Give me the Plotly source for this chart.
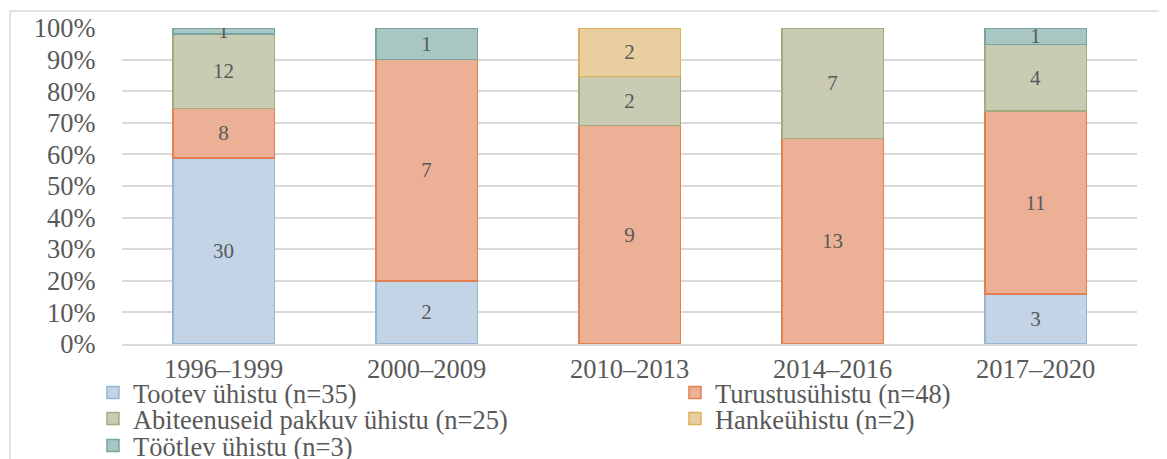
import plotly.graph_objects as go

# periods and counts per cooperative type
periods = ["1996–1999", "2000–2009", "2010–2013", "2014–2016", "2017–2020"]
tootev = [30, 2, 0, 0, 3]
turustus = [8, 7, 9, 13, 11]
abiteenus = [12, 0, 2, 7, 4]
hanke = [0, 0, 2, 0, 0]
tootlev = [1, 1, 0, 0, 1]

names = [
    "Tootev ühistu (n=35)",
    "Turustusühistu (n=48)",
    "Abiteenuseid pakkuv ühistu (n=25)",
    "Hankeühistu (n=2)",
    "Töötlev ühistu (n=3)",
]
fills = ["#c2d4e6", "#ebb095", "#c9cbb3", "#e9cf9f", "#a9c7c2"]
borders = ["#95b6d6", "#e2814f", "#a4a97f", "#dcb158", "#75a59e"]

font = "Liberation Serif"
grey = "#595959"

# one legend per entry so the two-column layout can be placed exactly
legend_ids = ["legend", "legend2", "legend3", "legend4", "legend5"]
legend_pos = [(-0.0286, -0.0782), (0.5448, -0.0782),
              (-0.0286, -0.1604), (0.5448, -0.1604),
              (-0.0286, -0.2459)]

fig = go.Figure()
for vals, name, fc, lc, lg in zip([tootev, turustus, abiteenus, hanke, tootlev],
                                  names, fills, borders, legend_ids):
    fig.add_bar(
        x=periods,
        y=[v if v else None for v in vals],
        text=[str(v) if v else "" for v in vals],
        name=name,
        legend=lg,
        showlegend=True,
        marker=dict(color=fc, line=dict(color=lc, width=1.5)),
        textposition="inside",
        insidetextanchor="middle",
        textangle=0,
        textfont=dict(family=font, size=21, color=grey),
        hoverinfo="skip",
    )

# chart border (partly outside the picture)
fig.add_shape(type="rect", xref="paper", yref="paper",
              x0=-0.1103, x1=1.2, y0=-0.6, y1=1.0538,
              line=dict(color="#d9d9d9", width=1.5), layer="below")

legends = {}
for lg, (lx, ly) in zip(legend_ids, legend_pos):
    legends[lg] = dict(visible=True, x=lx, y=ly, xanchor="left", yanchor="top",
                       orientation="v", font=dict(family=font, size=26.5, color=grey),
                       bgcolor="rgba(0,0,0,0)", itemwidth=30)

fig.update_layout(
    width=1159,
    height=451,
    showlegend=True,
    barmode="stack",
    barnorm="fraction",
    bargap=0.5,
    plot_bgcolor="white",
    paper_bgcolor="white",
    margin=dict(l=114, r=30, t=20, b=115, autoexpand=False),
    font=dict(family=font, size=26.5, color=grey),
    uniformtext=dict(mode="show", minsize=21),
    **legends,
)
fig.update_xaxes(
    showgrid=False,
    showline=True, linecolor="#d9d9d9", linewidth=2,
    ticks="",
    tickfont=dict(size=26.5, color=grey),
)
fig.update_yaxes(
    range=[0, 1.0001],
    tickformat=".0%",
    dtick=0.1,
    showgrid=True, gridcolor="#d9d9d9", gridwidth=2,
    zeroline=False,
    ticks="outside", ticklen=20, tickcolor="rgba(0,0,0,0)",
    tickfont=dict(size=26.5, color=grey),
)

fig.write_html("out.html")
